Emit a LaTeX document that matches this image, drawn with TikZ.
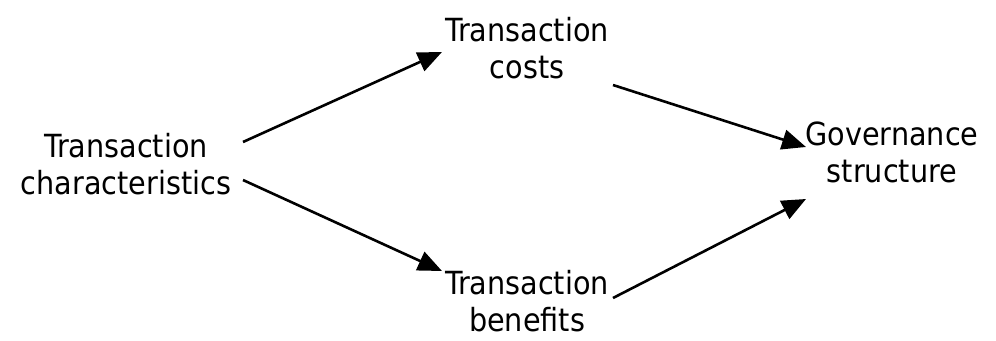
\documentclass[tikz,border=0pt]{standalone}
\usepackage{fontspec}
\setmainfont{DejaVu Sans Condensed}
\usetikzlibrary{arrows.meta}
\begin{document}
\begin{tikzpicture}[x=1bp,y=1bp,
  lbl/.style={align=center,font=\fontsize{32}{37}\selectfont,inner sep=0pt},
  arr/.style={line width=2.6bp,-{Triangle[length=24bp,width=20bp]}}]
\useasboundingbox (0,0) rectangle (996,340);
\node[lbl] (tc) at (126,176) {Transaction\\characteristics};
\node[lbl] (cost) at (527,292) {Transaction\\costs};
\node[lbl] (ben) at (527,39) {Transaction\\benefits};
\node[lbl] (gov) at (892,188) {Governance\\structure};
\coordinate (a1s) at (243,198);
\coordinate (a1e) at (442,288);
\coordinate (a2s) at (243,160);
\coordinate (a2e) at (442,69);
\coordinate (a3s) at (613,255);
\coordinate (a3e) at (806,193);
\coordinate (a4s) at (613,42);
\coordinate (a4e) at (806,141);
\draw[arr] (a1s) -- (a1e);
\draw[arr] (a2s) -- (a2e);
\draw[arr] (a3s) -- (a3e);
\draw[arr] (a4s) -- (a4e);
\end{tikzpicture}
\end{document}
